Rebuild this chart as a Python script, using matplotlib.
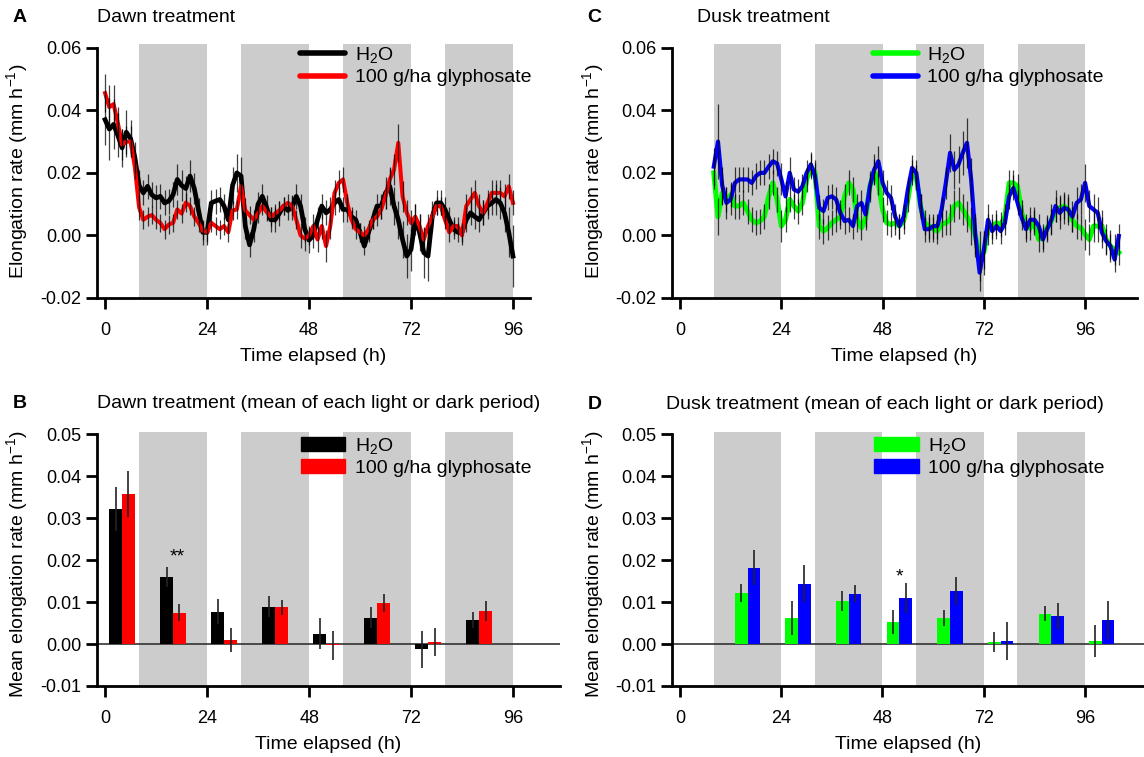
import numpy as np
import matplotlib
matplotlib.use('Agg')
import matplotlib.pyplot as plt
from matplotlib.lines import Line2D
from matplotlib.patches import Patch

plt.rcParams['font.family'] = ['Liberation Sans', 'DejaVu Sans']
plt.rcParams['mathtext.fontset'] = 'custom'
plt.rcParams['mathtext.rm'] = 'Liberation Sans'
plt.rcParams['mathtext.default'] = 'regular'
plt.rcParams['axes.unicode_minus'] = False

# ---------------- data ----------------
# Panel A: dawn treatment, hourly readings 0..96 h
dawn_hours = np.arange(0, 97)
dawn_h2o = [0.037, 0.034, 0.0355, 0.032, 0.028, 0.033, 0.031, 0.025, 0.016, 0.0136,
            0.0157, 0.013, 0.012, 0.0125, 0.0104, 0.011, 0.013, 0.0179, 0.016, 0.015,
            0.019, 0.015, 0.008, 0.001, 0.001, 0.0104, 0.011, 0.0115, 0.0094, 0.005,
            0.016, 0.020, 0.019, 0.003, -0.003, 0.002, 0.010, 0.0125, 0.009, 0.005,
            0.005, 0.007, 0.0094, 0.008, 0.009, 0.0125, 0.0094, 0.002, -0.0015, 0.000,
            0.005, 0.0094, 0.0072, 0.0083, 0.0104, 0.0115, 0.0083, 0.0083, 0.006, 0.005,
            0.001, -0.0034, 0.001, 0.005, 0.0094, 0.0094, 0.0136, 0.0157, 0.0094, 0.005,
            -0.0013, -0.0066, -0.0045, 0.005, 0.001, -0.0055, -0.0066, 0.006, 0.0104, 0.0104,
            0.0083, 0.005, 0.002, 0.001, 0.001, 0.005, 0.0072, 0.006, 0.005, 0.0072,
            0.0094, 0.0104, 0.0115, 0.0104, 0.0072, 0.001, -0.0066]
dawn_h2o_err = [0.008, 0.010, 0.008, 0.007, 0.006, 0.007, 0.006, 0.005,
                0.005, 0.004, 0.004, 0.004, 0.004, 0.004, 0.004, 0.004, 0.004,
                0.005, 0.005, 0.004, 0.005, 0.005, 0.004, 0.004, 0.004,
                0.004, 0.004, 0.004, 0.004, 0.004, 0.006, 0.006, 0.006,
                0.004, 0.004, 0.004, 0.004, 0.004, 0.004, 0.004, 0.004,
                0.004, 0.003, 0.003, 0.004, 0.004, 0.004, 0.004, 0.004,
                0.004, 0.004, 0.004, 0.004, 0.004, 0.004, 0.004, 0.004,
                0.004, 0.003, 0.003, 0.003, 0.003, 0.003, 0.003, 0.004,
                0.004, 0.005, 0.006, 0.006, 0.006, 0.006, 0.007, 0.007,
                0.005, 0.006, 0.008, 0.008, 0.005, 0.004, 0.004, 0.004,
                0.004, 0.003, 0.003, 0.003, 0.004, 0.004, 0.004, 0.004,
                0.004, 0.004, 0.004, 0.005, 0.005, 0.006, 0.008, 0.010]
dawn_gly = [0.0455, 0.041, 0.042, 0.036, 0.029, 0.030, 0.030, 0.022, 0.009, 0.005,
            0.006, 0.0065, 0.005, 0.004, 0.002, 0.0035, 0.004, 0.0083, 0.007, 0.0105,
            0.0094, 0.006, 0.004, 0.0015, 0.001, 0.004, 0.003, 0.002, 0.003, 0.001,
            0.008, 0.0083, 0.0157, 0.008, 0.0065, 0.005, 0.007, 0.0094, 0.0075, 0.006,
            0.007, 0.008, 0.0094, 0.0104, 0.0095, 0.005, 0.000, -0.001, 0.000, 0.003,
            -0.0013, 0.003, -0.0034, 0.003, 0.0136, 0.0168, 0.0179, 0.0104, 0.005, 0.002,
            0.001, 0.000, 0.002, 0.005, 0.006, 0.0083, 0.0125, 0.0179, 0.021, 0.0296,
            0.0125, 0.0072, 0.004, 0.006, 0.003, -0.0013, 0.003, 0.006, 0.0094, 0.0094,
            0.005, 0.001, 0.003, 0.003, 0.000, 0.0094, 0.0115, 0.0136, 0.0094, 0.0072,
            0.0104, 0.0136, 0.0136, 0.0136, 0.0125, 0.0157, 0.0104]
dawn_gly_err = [0.006, 0.007, 0.006, 0.005, 0.005, 0.005, 0.005, 0.004,
                0.004, 0.003, 0.003, 0.003, 0.003, 0.003, 0.003, 0.003, 0.003,
                0.003, 0.003, 0.003, 0.003, 0.003, 0.003, 0.003, 0.003,
                0.003, 0.003, 0.003, 0.003, 0.003, 0.003, 0.003, 0.004,
                0.004, 0.003, 0.003, 0.003, 0.003, 0.003, 0.003, 0.003,
                0.003, 0.003, 0.003, 0.003, 0.003, 0.004, 0.004, 0.003,
                0.004, 0.004, 0.004, 0.005, 0.004, 0.004, 0.004, 0.004,
                0.003, 0.003, 0.003, 0.003, 0.003, 0.003, 0.003, 0.003,
                0.003, 0.004, 0.004, 0.005, 0.006, 0.005, 0.004, 0.004,
                0.004, 0.004, 0.004, 0.004, 0.003, 0.003, 0.003, 0.003,
                0.003, 0.003, 0.003, 0.003, 0.004, 0.004, 0.004, 0.004,
                0.004, 0.004, 0.004, 0.004, 0.004, 0.004, 0.004, 0.004]

# Panel C: dusk treatment, hourly readings 8..104 h
dusk_hours = np.arange(8, 105)
dusk_h2o = [0.020, 0.006, 0.0136, 0.0115, 0.013, 0.0094, 0.0094, 0.0104,
            0.0078, 0.005, 0.004, 0.0046, 0.006, 0.0125, 0.0168, 0.0115,
            0.003, 0.005, 0.0115, 0.0094, 0.0078, 0.0104, 0.0179, 0.022,
            0.020, 0.003, 0.0014, 0.0024, 0.004, 0.005, 0.006, 0.0125,
            0.0168, 0.0147, 0.005, 0.0024, 0.0056, 0.0157, 0.0205, 0.0168,
            0.0083, 0.004, 0.0035, 0.004, 0.003, 0.0046, 0.0115, 0.020,
            0.0184, 0.0094, 0.004, 0.003, 0.002, 0.0014, 0.0035, 0.004,
            0.005, 0.0094, 0.0104, 0.0083, 0.006, 0.003, 0.000, -0.0066,
            -0.0055, 0.002, 0.003, 0.004, 0.0035, 0.006, 0.0168, 0.0168,
            0.0157, 0.0072, 0.003, 0.0024, 0.004, -0.0013, -0.0002, 0.0024,
            0.0046, 0.0083, 0.0088, 0.0094, 0.0083, 0.005, 0.003, 0.0024,
            0.0003, -0.0013, 0.003, 0.003, 0.003, -0.0013, -0.0034, -0.0045,
            -0.0055]
dusk_h2o_err = [0.005, 0.006, 0.004, 0.004, 0.004, 0.004, 0.004, 0.004,
                0.004, 0.004, 0.004, 0.004, 0.004, 0.004, 0.004, 0.004,
                0.005, 0.004, 0.004, 0.004, 0.004, 0.004, 0.004, 0.004,
                0.004, 0.004, 0.004, 0.004, 0.004, 0.004, 0.004, 0.004,
                0.004, 0.004, 0.004, 0.004, 0.004, 0.004, 0.004, 0.004,
                0.004, 0.004, 0.004, 0.004, 0.004, 0.004, 0.004, 0.004,
                0.004, 0.004, 0.004, 0.004, 0.004, 0.004, 0.004, 0.004,
                0.005, 0.005, 0.005, 0.005, 0.005, 0.006, 0.007, 0.008,
                0.007, 0.005, 0.004, 0.004, 0.004, 0.004, 0.004, 0.004,
                0.004, 0.004, 0.004, 0.004, 0.004, 0.004, 0.004, 0.004,
                0.004, 0.004, 0.004, 0.004, 0.004, 0.004, 0.004, 0.004,
                0.005, 0.005, 0.005, 0.005, 0.005, 0.005, 0.005, 0.005,
                0.004]
dusk_gly = [0.022, 0.030, 0.016, 0.0104, 0.0115, 0.0168, 0.0179, 0.0179,
            0.0179, 0.0168, 0.019, 0.020, 0.020, 0.022, 0.0237, 0.023,
            0.018, 0.0125, 0.020, 0.0147, 0.014, 0.0157, 0.020, 0.0227,
            0.019, 0.0088, 0.0078, 0.012, 0.0125, 0.0115, 0.0072, 0.0046,
            0.005, 0.003, 0.0094, 0.0104, 0.0067, 0.0157, 0.021, 0.0237,
            0.0168, 0.0136, 0.012, 0.006, 0.003, 0.006, 0.0147, 0.0216,
            0.020, 0.0094, 0.002, 0.002, 0.003, 0.003, 0.0083, 0.0168,
            0.0264, 0.021, 0.0227, 0.0264, 0.0296, 0.0179, 0.000, -0.0119,
            -0.0046, 0.005, 0.0014, 0.003, 0.0014, 0.004, 0.0125, 0.0152,
            0.0104, 0.0056, 0.002, 0.005, 0.005, 0.003, -0.0013, 0.002,
            0.005, 0.0094, 0.0072, 0.0088, 0.0083, 0.006, 0.0104, 0.0115,
            0.0168, 0.0094, 0.0083, 0.0072, 0.0009, -0.0018, -0.0034, -0.0077,
            -0.0002]
dusk_gly_err = [0.006, 0.012, 0.006, 0.005, 0.005, 0.005, 0.004, 0.004,
                0.004, 0.004, 0.004, 0.004, 0.004, 0.004, 0.004, 0.004,
                0.005, 0.005, 0.005, 0.004, 0.004, 0.004, 0.004, 0.004,
                0.004, 0.004, 0.004, 0.004, 0.004, 0.004, 0.004, 0.004,
                0.004, 0.004, 0.004, 0.004, 0.004, 0.005, 0.005, 0.005,
                0.004, 0.004, 0.004, 0.004, 0.004, 0.004, 0.004, 0.004,
                0.004, 0.004, 0.004, 0.004, 0.004, 0.004, 0.004, 0.005,
                0.006, 0.006, 0.006, 0.007, 0.008, 0.007, 0.006, 0.006,
                0.006, 0.005, 0.004, 0.004, 0.004, 0.004, 0.004, 0.004,
                0.004, 0.004, 0.004, 0.004, 0.004, 0.004, 0.004, 0.004,
                0.005, 0.005, 0.005, 0.005, 0.005, 0.005, 0.005, 0.005,
                0.006, 0.005, 0.005, 0.005, 0.005, 0.004, 0.004, 0.004,
                0.004]

# Dark periods (grey shading), hours
dark_start = [8, 32, 56, 80]
dark_end = [24, 48, 72, 96]

# Panel B: dawn, mean of each light/dark period
dawn_period_mid = np.array([4, 16, 28, 40, 52, 64, 76, 88])
dawn_bar_h2o = [0.0322, 0.0160, 0.0077, 0.0089, 0.0025, 0.0063, -0.0013, 0.0058]
dawn_bar_h2o_err = [0.0053, 0.0024, 0.0030, 0.0025, 0.0038, 0.0024, 0.0044, 0.0019]
dawn_bar_gly = [0.0358, 0.0075, 0.0010, 0.0087, -0.0003, 0.0098, 0.0005, 0.0079]
dawn_bar_gly_err = [0.0055, 0.0021, 0.0029, 0.0017, 0.0034, 0.0022, 0.0034, 0.0023]

# Panel D: dusk, mean of each light/dark period
dusk_period_mid = np.array([16, 28, 40, 52, 64, 76, 88, 100])
dusk_bar_h2o = [0.0122, 0.0062, 0.0103, 0.0053, 0.0062, 0.0005, 0.0072, 0.0007]
dusk_bar_h2o_err = [0.0021, 0.0040, 0.0024, 0.0029, 0.0020, 0.0023, 0.0018, 0.0039]
dusk_bar_gly = [0.0182, 0.0144, 0.0120, 0.0110, 0.0127, 0.0007, 0.0067, 0.0057]
dusk_bar_gly_err = [0.0042, 0.0045, 0.0021, 0.0035, 0.0033, 0.0045, 0.0031, 0.0046]

x_ticks = [0, 24, 48, 72, 96]
label_h2o = 'H$_2$O'
label_gly = '100 g/ha glyphosate'

# ---------------- figure ----------------
W, H = 1144, 757
fig = plt.figure(figsize=(W / 100, H / 100), dpi=100)


def px_axes(l, t, r, b):
    return fig.add_axes([l / W, 1 - b / H, (r - l) / W, (b - t) / H])


GREY = '#cccccc'
FS = 14
TFS = 13


def style(ax, xlim, ylo, yhi, ytop, yticks, ylabel, fmt):
    ax.set_xlim(*xlim)
    ax.set_ylim(ylo, ytop)
    for s in ['top', 'right']:
        ax.spines[s].set_visible(False)
    ax.spines['left'].set_bounds(ylo, yhi)
    ax.spines['left'].set_linewidth(2.0)
    ax.spines['bottom'].set_linewidth(2.0)
    ax.set_xticks(x_ticks)
    ax.set_yticks(yticks)
    ax.set_yticklabels([fmt % v for v in yticks])
    ax.tick_params(direction='out', length=8, width=2.0, labelsize=TFS, pad=3)
    ax.tick_params(axis='x', pad=9)
    ax.set_xlabel('Time elapsed (h)', fontsize=FS, labelpad=7)
    ax.set_ylabel(ylabel, fontsize=FS)
    for a, b in zip(dark_start, dark_end):
        ax.axvspan(a, b, color=GREY, lw=0, zorder=0)


ylab_top = 'Elongation rate (mm h$^{-1}$)'
ylab_bot = 'Mean elongation rate (mm h$^{-1}$)'
top_yticks = [-0.02, 0.00, 0.02, 0.04, 0.06]
bot_yticks = [-0.01, 0.00, 0.01, 0.02, 0.03, 0.04, 0.05]

axA = px_axes(97, 44, 530, 298)
axC = px_axes(672, 44, 1137, 298)
axB = px_axes(97, 432, 560, 686)
axD = px_axes(672, 432, 1144, 686)

style(axA, (-1.9, 100.0), -0.02, 0.06, 0.0612, top_yticks, ylab_top, '%.2f')
style(axC, (-1.9, 108.3), -0.02, 0.06, 0.0612, top_yticks, ylab_top, '%.2f')
style(axB, (-1.9, 107.0), -0.01, 0.05, 0.0505, bot_yticks, ylab_bot, '%.2f')
style(axD, (-1.9, 110.0), -0.01, 0.05, 0.0505, bot_yticks, ylab_bot, '%.2f')
axA.yaxis.set_label_coords((30 - 97) / 433, 0.5)
axC.yaxis.set_label_coords((606 - 672) / 465, 0.5)
axB.yaxis.set_label_coords((30 - 97) / 463, 0.48)
axD.yaxis.set_label_coords((606 - 672) / 472, 0.48)


def series(ax, t, v, color, lw=3.0):
    ax.plot(t, v, color=color, lw=lw, zorder=2, solid_joinstyle='round')


def errs(ax, t, v, e):
    ax.errorbar(t, v, yerr=e, fmt='none', ecolor='black', elinewidth=0.9,
                alpha=0.75, capsize=0, zorder=3)


# Panel A
series(axA, dawn_hours, dawn_h2o, 'black', 3.4)
series(axA, dawn_hours, dawn_gly, '#ff0000', 2.9)
errs(axA, dawn_hours, dawn_h2o, dawn_h2o_err)
errs(axA, dawn_hours, dawn_gly, dawn_gly_err)

# Panel C
series(axC, dusk_hours, dusk_h2o, '#00ff00', 3.6)
series(axC, dusk_hours, dusk_gly, '#0000ff', 3.0)
errs(axC, dusk_hours, dusk_h2o, dusk_h2o_err)
errs(axC, dusk_hours, dusk_gly, dusk_gly_err)

# Bars
BW = 3.0


def bars(ax, mid, v1, e1, c1, v2, e2, c2):
    ax.axhline(0, color='#333333', lw=1.2, zorder=1)
    ax.bar(mid - BW / 2, v1, width=BW, color=c1, zorder=2)
    ax.bar(mid + BW / 2, v2, width=BW, color=c2, zorder=2)
    ax.errorbar(mid - BW / 2, v1, yerr=e1, fmt='none', ecolor='#222222',
                elinewidth=1.2, capsize=0, zorder=3)
    ax.errorbar(mid + BW / 2, v2, yerr=e2, fmt='none', ecolor='#222222',
                elinewidth=1.2, capsize=0, zorder=3)


bars(axB, dawn_period_mid, dawn_bar_h2o, dawn_bar_h2o_err, 'black',
     dawn_bar_gly, dawn_bar_gly_err, '#ff0000')
bars(axD, dusk_period_mid, dusk_bar_h2o, dusk_bar_h2o_err, '#00ff00',
     dusk_bar_gly, dusk_bar_gly_err, '#0000ff')
axB.text(17, 0.0208, '**', fontsize=FS, ha='center', va='center')
axD.text(52, 0.0160, '*', fontsize=FS, ha='center', va='center')

# Legends
leg_kw = dict(loc='upper left', frameon=False, fontsize=FS, handlelength=2.3,
              handletextpad=0.5, labelspacing=0.18, borderpad=0, borderaxespad=0)
axA.legend(handles=[Line2D([], [], color='black', lw=4, solid_capstyle='round'),
                    Line2D([], [], color='#ff0000', lw=4, solid_capstyle='round')],
           labels=[label_h2o, label_gly], bbox_to_anchor=(0.469, 0.995), **leg_kw)
axC.legend(handles=[Line2D([], [], color='#00ff00', lw=4, solid_capstyle='round'),
                    Line2D([], [], color='#0000ff', lw=4, solid_capstyle='round')],
           labels=[label_h2o, label_gly], bbox_to_anchor=(0.432, 0.995), **leg_kw)
axB.legend(handles=[Patch(color='black'), Patch(color='#ff0000')],
           labels=[label_h2o, label_gly], bbox_to_anchor=(0.44, 0.985), **leg_kw)
axD.legend(handles=[Patch(color='#00ff00'), Patch(color='#0000ff')],
           labels=[label_h2o, label_gly], bbox_to_anchor=(0.428, 0.985), **leg_kw)


# Panel letters and titles
def ftext(x, y, s, **kw):
    fig.text(x / W, 1 - y / H, s, va='center', ha='left', fontsize=FS, **kw)


ftext(13, 17, 'A', fontweight='bold')
ftext(97, 17, 'Dawn treatment')
ftext(587, 17, 'C', fontweight='bold')
ftext(697, 17, 'Dusk treatment')
ftext(13, 403, 'B', fontweight='bold')
ftext(97, 403, 'Dawn treatment (mean of each light or dark period)')
ftext(588, 405, 'D', fontweight='bold')
ftext(666, 405, 'Dusk treatment (mean of each light or dark period)')

fig.savefig('out.png', dpi=100)
